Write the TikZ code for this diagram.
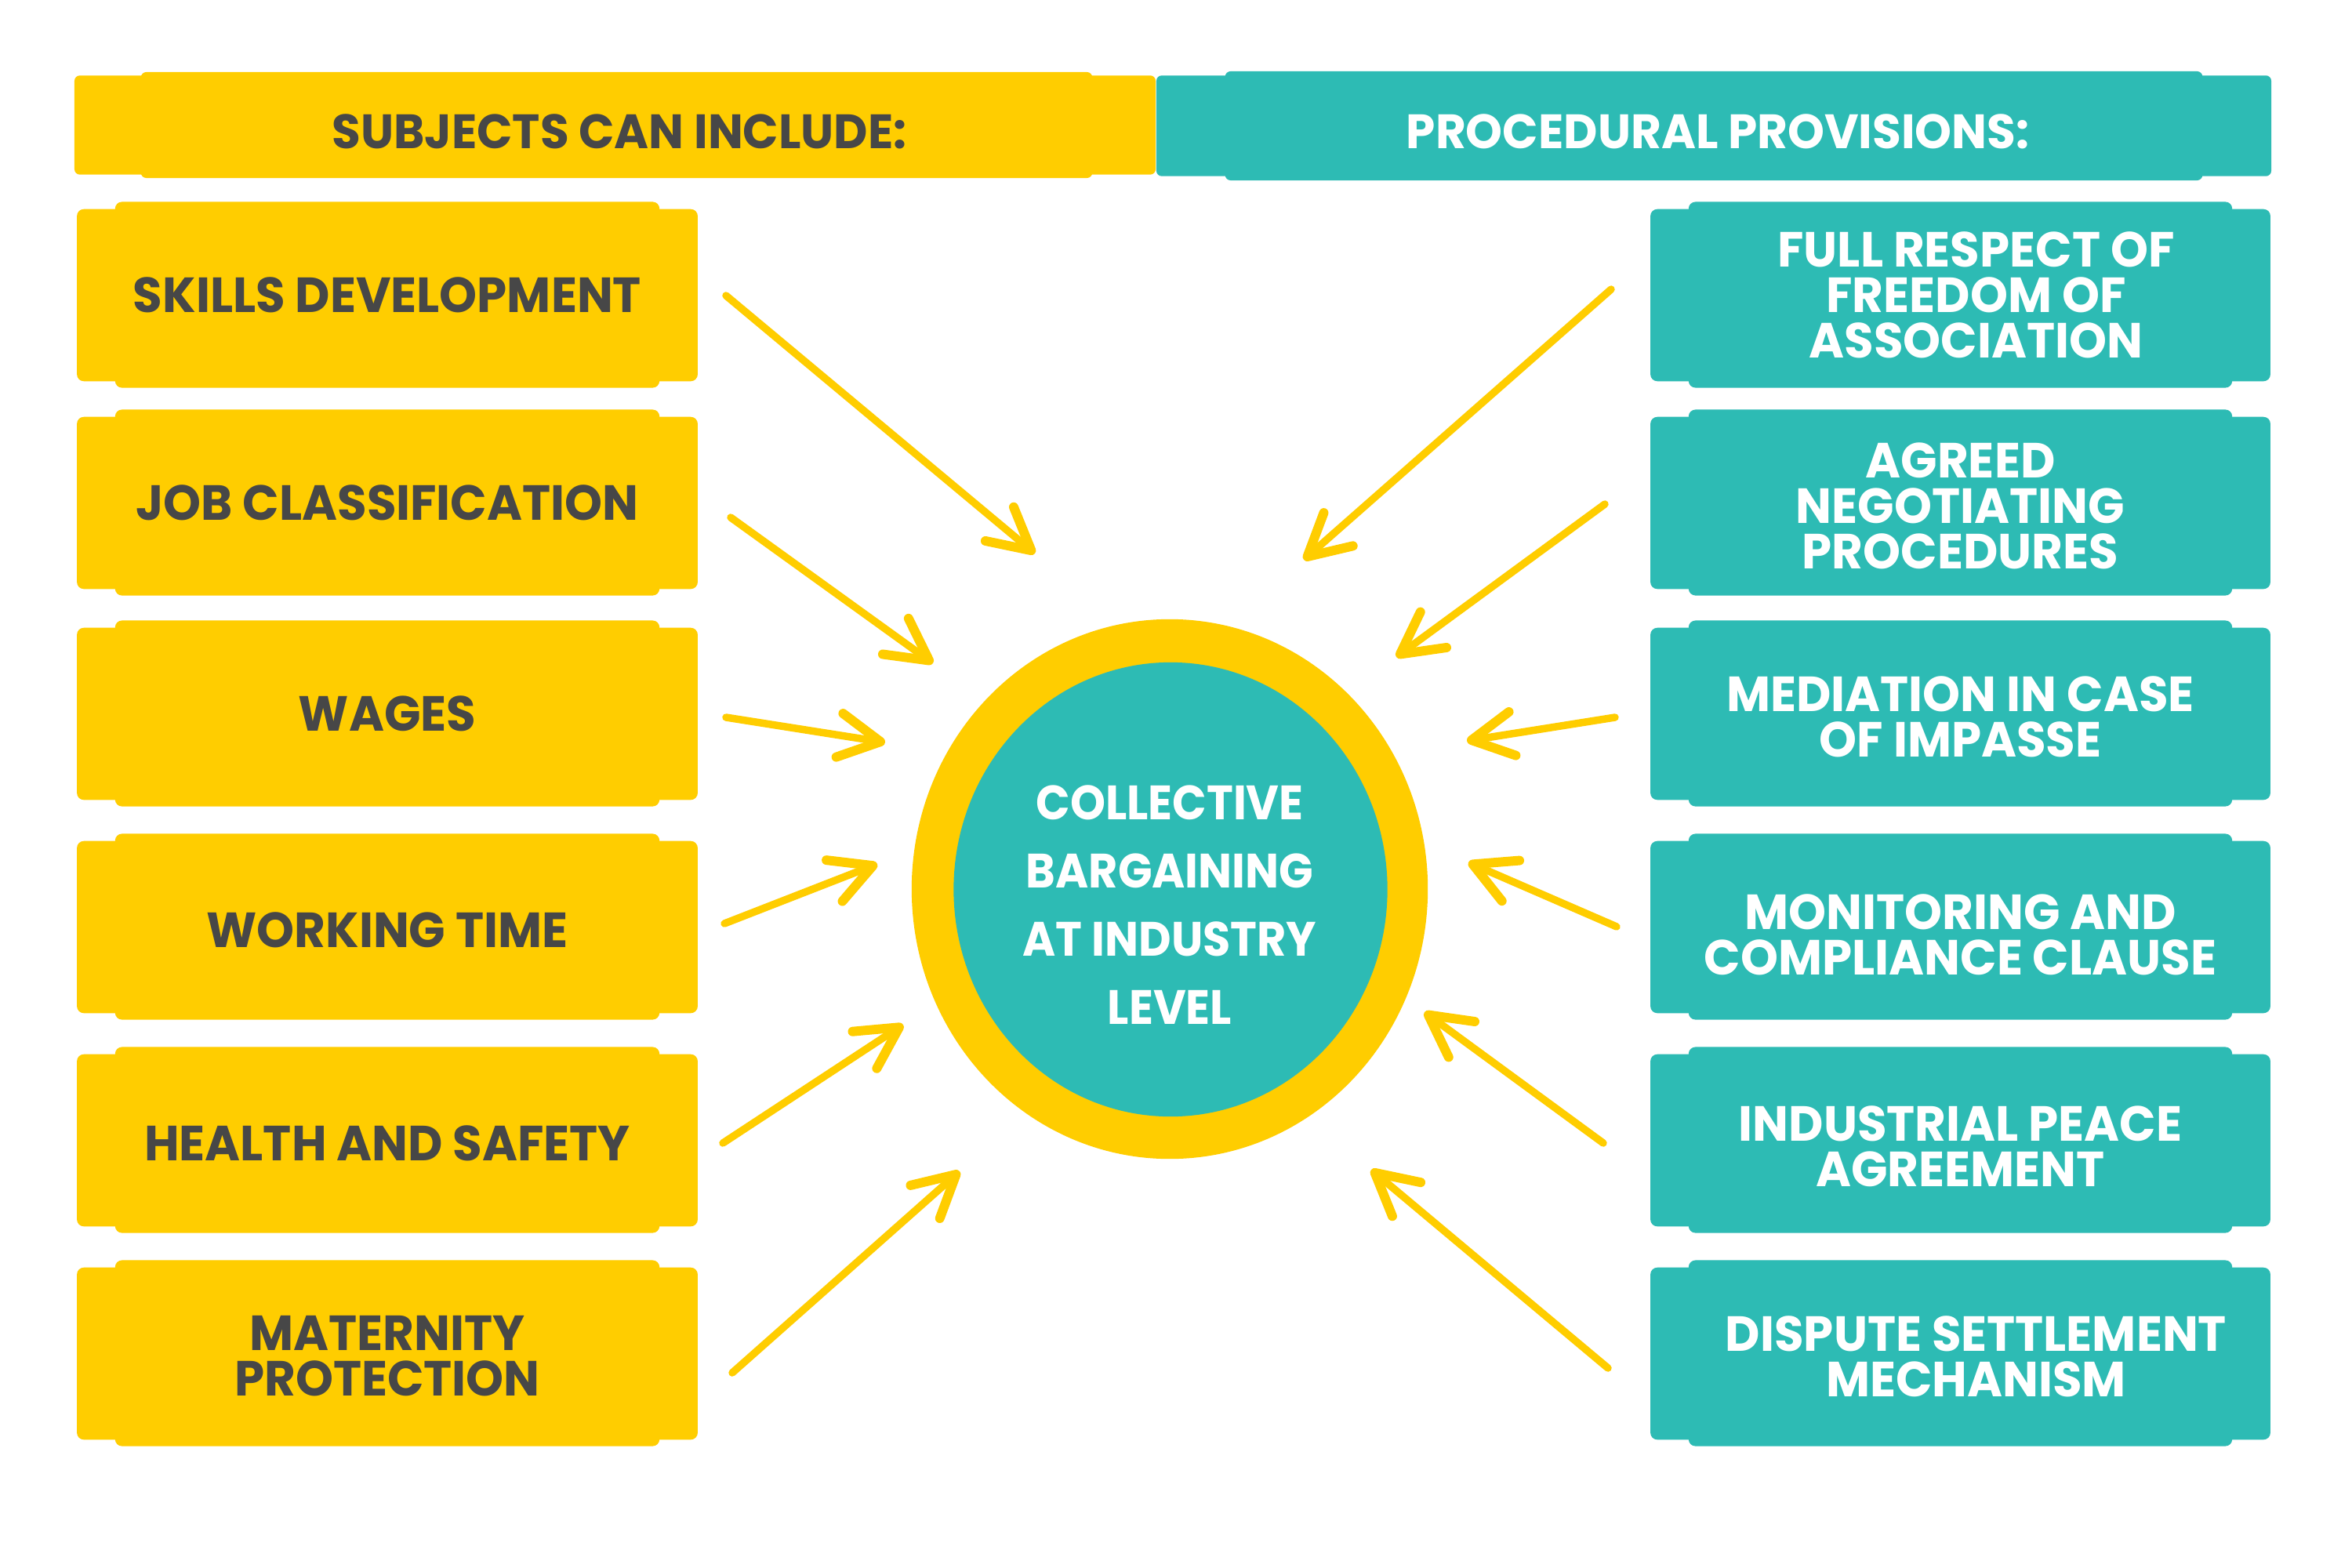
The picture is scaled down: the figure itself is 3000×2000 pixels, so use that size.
\documentclass[tikz,border=0pt]{standalone}
\usepackage{fontspec}
\usetikzlibrary{arrows.meta,calc,shapes.geometric}
\newfontfamily\bxfont{Poppins}[UprightFont=* Bold, FakeStretch=0.97]
\newfontfamily\ccfont{Poppins}[UprightFont=* Bold, FakeStretch=0.93]
\definecolor{ycol}{RGB}{255,205,0}
\definecolor{tcol}{RGB}{45,187,180}
\definecolor{dcol}{RGB}{71,71,71}
\pgfdeclarelayer{background}
\pgfsetlayers{background,main}
\tikzset{
  lbox/.style={fill=ycol, rounded corners=2.5pt, minimum width=6.94cm, minimum height=2.37cm, inner sep=0pt},
  rbox/.style={fill=tcol, rounded corners=2.5pt, minimum width=6.93cm, minimum height=2.37cm, inner sep=0pt},
  lbox txt/.style={text=dcol, align=center, inner sep=0pt, font=\bxfont\fontsize{17.9}{16.5}\selectfont},
  rbox txt/.style={text=white, align=center, inner sep=0pt, font=\bxfont\fontsize{17.9}{16.5}\selectfont},
  lbox lip/.style={fill=ycol, rounded corners=2.5pt},
  rbox lip/.style={fill=tcol, rounded corners=2.5pt},
  htxt/.style={inner sep=0pt, font=\bxfont\fontsize{17.5}{20}\selectfont},
  arr/.style={draw=ycol, line width=2.7pt, line cap=round,
    -{Straight Barb[length=15pt, width=16pt, line width=3.4pt, line cap=round, line join=round]}},
}
\newcommand\mkbox[6]{%
  \node[#2] (#1) at (#3,#4) {};
  \begin{pgfonlayer}{background}
    \fill[#2 lip] ($(#1.north west)+(-48,10)$) rectangle ($(#1.south east)+(48,-9)$);
  \end{pgfonlayer}
  \node[#2 txt] (#1t) at ($(#1.center)+(#5)$) {#6};
}
\begin{document}
\begin{tikzpicture}[x=0.01cm,y=-0.01cm]
\useasboundingbox (0,0) rectangle (3000,2000);
\begin{pgfonlayer}{background}
  \fill[white] (0,0) rectangle (3000,2000);
\end{pgfonlayer}

% headers
\node[fill=ycol, rounded corners=2pt, minimum width=12.13cm, minimum height=1.35cm, inner sep=0pt] (hL) at (786.5,159.5) {};
\node[fill=tcol, rounded corners=2pt, minimum width=12.46cm, minimum height=1.39cm, inner sep=0pt] (hR) at (2186,160.5) {};
\begin{pgfonlayer}{background}
  \fill[ycol, rounded corners=2pt] ($(hL.north west)+(-84,5)$) rectangle ($(hL.south east)+(80,-5)$);
  \fill[tcol, rounded corners=2pt] ($(hR.north west)+(-87,6)$) rectangle ($(hR.south east)+(87,-6)$);
\end{pgfonlayer}
\node[htxt, text=dcol] (hLt) at (790,168) {SUBJECTS CAN INCLUDE:};
\node[htxt, text=white] (hRt) at (2191,168) {PROCEDURAL PROVISIONS:};

% left boxes
\mkbox{l1}{lbox}{494}{376}{0,0}{SKILLS DEVELOPMENT}
\mkbox{l2}{lbox}{494}{641}{0,0}{JOB CLASSIFICATION}
\mkbox{l3}{lbox}{494}{910}{0,0}{WAGES}
\mkbox{l4}{lbox}{494}{1182}{0,4}{WORKING TIME}
\mkbox{l5}{lbox}{494}{1454}{0,4}{HEALTH AND SAFETY}
\mkbox{l6}{lbox}{494}{1726}{0,4}{MATERNITY\\PROTECTION}

% right boxes
\mkbox{r1}{rbox}{2500.5}{376}{20,0}{FULL RESPECT OF\\FREEDOM OF\\ASSOCIATION}
\mkbox{r2}{rbox}{2500.5}{641}{0,4}{AGREED\\NEGOTIATING\\PROCEDURES}
\mkbox{r3}{rbox}{2500.5}{910}{0,4}{MEDIATION IN CASE\\OF IMPASSE}
\mkbox{r4}{rbox}{2500.5}{1182}{0,10}{MONITORING AND\\COMPLIANCE CLAUSE}
\mkbox{r5}{rbox}{2500.5}{1454}{0,8}{INDUSTRIAL PEACE\\AGREEMENT}
\mkbox{r6}{rbox}{2500.5}{1726}{20,4}{DISPUTE SETTLEMENT\\MECHANISM}

% centre
\node[ellipse, fill=ycol, minimum width=6.58cm, minimum height=6.88cm, inner sep=0pt] (co) at (1492,1134) {};
\node[ellipse, fill=tcol, minimum width=5.53cm, minimum height=5.79cm, inner sep=0pt] (ci) at (1493,1134.5) {};
\node[text=white, align=center, inner sep=0pt, font=\ccfont\fontsize{17.5}{24.7}\selectfont] (ct) at (1492,1154) {COLLECTIVE\\BARGAINING\\AT INDUSTRY\\LEVEL};

% arrow ends
\coordinate (a1s) at (926,377);  \coordinate (a1e) at (1320,706);
\coordinate (a2s) at (932,660);  \coordinate (a2e) at (1190,846);
\coordinate (a3s) at (926,915);  \coordinate (a3e) at (1129,947);
\coordinate (a4s) at (924,1178); \coordinate (a4e) at (1119,1102);
\coordinate (a5s) at (922,1458); \coordinate (a5e) at (1152,1307);
\coordinate (a6s) at (934,1751); \coordinate (a6e) at (1224,1494);
\coordinate (b1s) at (2055,369); \coordinate (b1e) at (1663,714);
\coordinate (b2s) at (2047,643); \coordinate (b2e) at (1781,838);
\coordinate (b3s) at (2060,915); \coordinate (b3e) at (1871,945);
\coordinate (b4s) at (2062,1182);\coordinate (b4e) at (1873,1100);
\coordinate (b5s) at (2045,1458);\coordinate (b5e) at (1817,1291);
\coordinate (b6s) at (2051,1745);\coordinate (b6e) at (1749,1492);
\foreach \n in {a1,a2,a3,a4,a5,a6,b1,b2,b3,b4,b5,b6}{
  \draw[arr] (\n s) -- (\n e);
}
\end{tikzpicture}
\end{document}
